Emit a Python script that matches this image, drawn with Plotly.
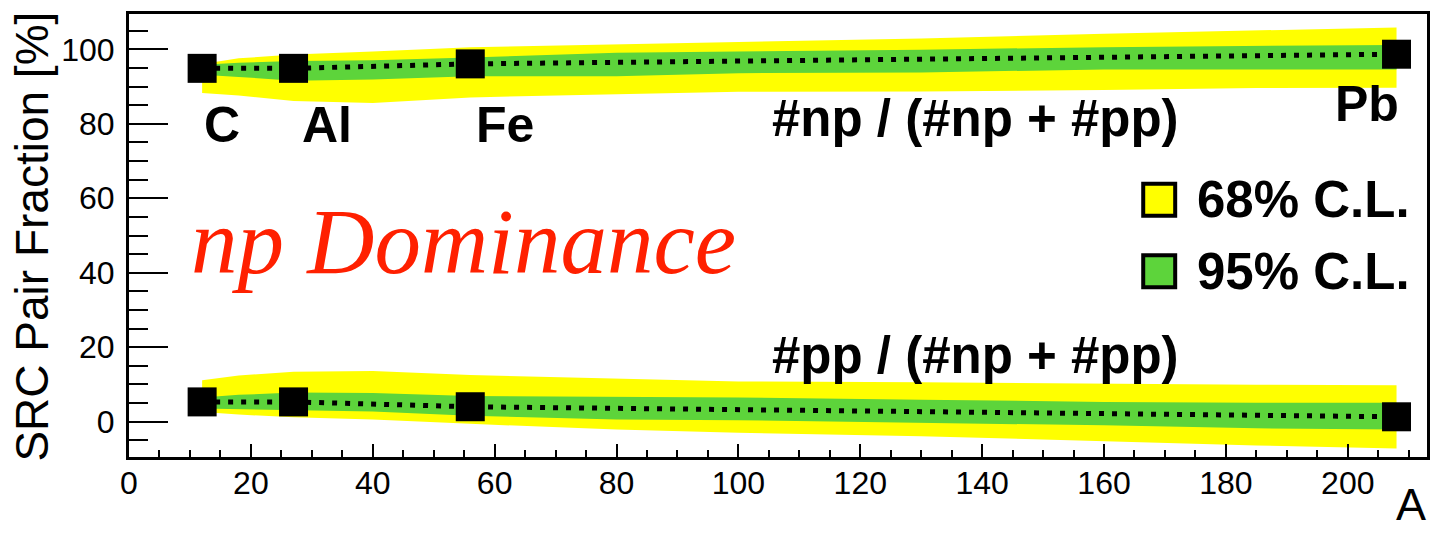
import plotly.graph_objects as go

# ---------------- data ----------------
nuclei = ["C", "Al", "Fe", "Pb"]
mass_number = [12, 27, 56, 208]
np_fraction = [94.9, 94.9, 96.1, 98.7]
pp_fraction = [5.3, 5.3, 4.0, 1.3]

band_A = [12, 18, 27, 40, 56, 80, 100, 130, 160, 185, 208]
# yellow (wide) band
np_yellow_hi = [96.1, 97.6, 98.6, 99.4, 100.6, 101.3, 101.9, 102.9, 104.2, 105.1, 105.9]
np_yellow_lo = [88.3, 87.6, 86.1, 85.6, 87.1, 87.9, 88.6, 88.7, 89.1, 89.6, 89.7]
pp_yellow_hi = [11.1, 12.4, 13.4, 13.6, 12.5, 11.6, 10.8, 10.6, 10.2, 9.9, 9.8]
pp_yellow_lo = [2.6, 1.9, 1.2, 0.6, -0.6, -2.1, -3.0, -3.9, -5.2, -6.4, -7.2]
# green (narrow) band
np_green_hi = [95.9, 96.4, 96.9, 97.1, 97.8, 99.1, 99.4, 99.9, 100.6, 101.0, 101.2]
np_green_lo = [93.2, 92.6, 91.6, 91.9, 92.8, 92.8, 93.6, 93.8, 94.6, 94.6, 94.6]
pp_green_hi = [6.5, 7.2, 7.8, 7.7, 6.9, 6.7, 6.5, 5.9, 5.3, 5.1, 5.1]
pp_green_lo = [3.5, 3.2, 3.0, 2.7, 1.6, 0.6, 0.4, -0.3, -1.0, -1.8, -2.1]

legend_labels = ["68% C.L.", "95% C.L."]
ratio_labels = ["#np / (#np + #pp)", "#pp / (#np + #pp)"]

x_ticks = list(range(0, 201, 20))
y_ticks = list(range(0, 101, 20))

# ---------------- style ----------------
YELLOW = "#ffff00"
GREEN = "#5dd43b"
RED = "#ff2000"
SANS = "Liberation Sans, Arial, sans-serif"
SERIF = "Liberation Serif, Times New Roman, serif"

W, H = 1441, 534
L, R, T, B = 129, 13, 11, 77


def px_x(p):
    return (p - L) / (W - L - R)


def px_y(p):
    return (H - B - p) / (H - T - B)


def band(hi, lo, color):
    return go.Scatter(
        x=band_A + band_A[::-1],
        y=hi + lo[::-1],
        fill="toself",
        fillcolor=color,
        line=dict(width=0, color=color),
        mode="lines",
        hoverinfo="skip",
        showlegend=False,
    )


fig = go.Figure()
fig.add_trace(band(np_yellow_hi, np_yellow_lo, YELLOW))
fig.add_trace(band(pp_yellow_hi, pp_yellow_lo, YELLOW))
fig.add_trace(band(np_green_hi, np_green_lo, GREEN))
fig.add_trace(band(pp_green_hi, pp_green_lo, GREEN))

for vals in (np_fraction, pp_fraction):
    fig.add_trace(go.Scatter(
        x=mass_number, y=vals, mode="lines",
        line=dict(color="black", width=5, dash="5px,8px"),
        showlegend=False, hoverinfo="skip"))
    fig.add_trace(go.Scatter(
        x=mass_number, y=vals, mode="markers",
        marker=dict(symbol="square", size=29, color="black",
                    line=dict(width=0)),
        showlegend=False))

annotations = []
# nucleus labels
label_pos = [(222, 123), (327, 123), (505, 123), (1368, 102)]
for name, (cx, cy) in zip(nuclei, label_pos):
    annotations.append(dict(
        text="<b>%s</b>" % name, x=px_x(cx), y=px_y(cy), xref="paper", yref="paper",
        xanchor="center", yanchor="middle", showarrow=False,
        font=dict(family=SANS, size=50, color="black")))
# ratio labels
for txt, cy in zip(ratio_labels, (116, 355)):
    annotations.append(dict(
        text="<b>%s</b>" % txt, x=px_x(770), y=px_y(cy), xref="paper", yref="paper",
        xanchor="left", yanchor="middle", showarrow=False,
        font=dict(family=SANS, size=51, color="black")))
# np Dominance
annotations.append(dict(
    text="<i>np Dominance</i>", x=px_x(189), y=px_y(240), xref="paper", yref="paper",
    xanchor="left", yanchor="middle", showarrow=False,
    font=dict(family=SERIF, size=93, color=RED)))
# legend
shapes = []
for lab, col, cy in zip(legend_labels, (YELLOW, GREEN), (198, 270)):
    shapes.append(dict(
        type="rect", xref="paper", yref="paper",
        x0=px_x(1144), x1=px_x(1176), y0=px_y(cy + 16), y1=px_y(cy - 16),
        fillcolor=col, line=dict(color="black", width=4), layer="above"))
    annotations.append(dict(
        text="<b>%s</b>" % lab, x=px_x(1196), y=px_y(cy), xref="paper", yref="paper",
        xanchor="left", yanchor="middle", showarrow=False,
        font=dict(family=SANS, size=51, color="black")))
# axis titles
annotations.append(dict(
    text="SRC Pair Fraction [%]", x=px_x(32), y=px_y(235), xref="paper", yref="paper",
    xanchor="center", yanchor="middle", textangle=-90, showarrow=False,
    font=dict(family=SANS, size=46, color="black")))
annotations.append(dict(
    text="A", x=px_x(1429), y=px_y(533), xref="paper", yref="paper",
    xanchor="right", yanchor="bottom", showarrow=False,
    font=dict(family=SANS, size=45, color="black")))

axis_common = dict(
    showline=True, linecolor="black", linewidth=3, mirror=True,
    ticks="inside", tickcolor="black", tickwidth=2,
    showgrid=False, zeroline=False,
    tickfont=dict(family=SANS, size=32, color="black"),
)

fig.update_layout(
    width=W, height=H,
    margin=dict(l=L, r=R, t=T, b=B),
    paper_bgcolor="white", plot_bgcolor="white",
    showlegend=False,
    annotations=annotations,
    shapes=shapes,
    xaxis=dict(range=[0, 213], tickvals=x_ticks, ticklen=13,
               minor=dict(dtick=5, tick0=0, ticklen=7, tickwidth=2,
                          ticks="inside", tickcolor="black"),
               ticklabelstandoff=-4, **axis_common),
    yaxis=dict(range=[-9.5, 109.5], tickvals=y_ticks, ticklen=39,
               minor=dict(dtick=5, tick0=0, ticklen=19, tickwidth=2,
                          ticks="inside", tickcolor="black"),
               ticklabelstandoff=5, **axis_common),
)

fig.write_html("out.html")
